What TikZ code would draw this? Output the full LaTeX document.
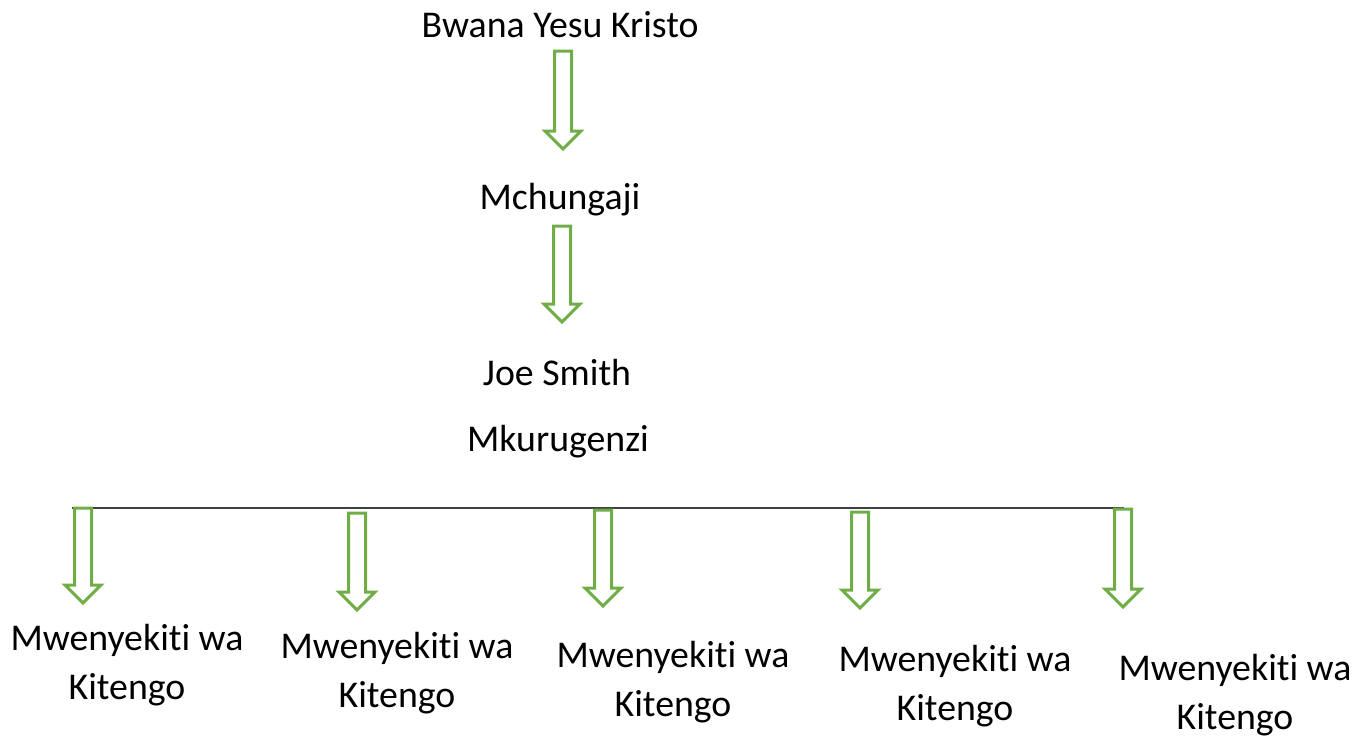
\documentclass[tikz,border=0pt]{standalone}
\usepackage{fontspec}
\setmainfont{Carlito}[Ligatures={NoCommon,NoRequired,NoContextual}, Contextuals=NoAlternate]
\usepackage{tikz}

\definecolor{arrowgreen}{HTML}{70AD47}
\definecolor{linegray}{HTML}{404040}

\tikzset{
  lbl/.style={font=\fontsize{37.8}{49}\selectfont, inner sep=0pt, align=center},
  blockline/.style={arrowgreen, line width=3pt, fill=white, line join=miter}
}

% hollow down arrow: x, top, tip
\newcommand{\downblock}[3]{%
  \draw [blockline] (#1-8.5,#2) -- (#1+8.5,#2) -- (#1+8.5,#3-18) -- (#1+18,#3-18)
    -- (#1,#3) -- (#1-18,#3-18) -- (#1-8.5,#3-18) -- cycle;}

\begin{document}
\begin{tikzpicture}[x=1pt, y=-1pt]
  \useasboundingbox (0,0) rectangle (1368,737);
  \node [lbl] (bwana) at (560, 25) {Bwana Yesu Kristo};
  \downblock{563}{51}{149}
  \node [lbl] (mchungaji) at (560, 200) {Mchungaji};
  \downblock{562}{226}{322}
  \node [lbl] (joe) at (557, 373) {Joe Smith};
  \node [lbl] (mkurugenzi) at (558, 442) {Mkurugenzi};
  \coordinate (lineL) at (72, 508);
  \coordinate (lineR) at (1124, 508);
  \draw [linegray, line width=1.5pt] (lineL) -- (lineR);
  \downblock{83}{508}{603}
  \downblock{357}{513}{610}
  \downblock{603}{510}{606}
  \downblock{860}{512}{608}
  \downblock{1123}{509}{607}
  \node [lbl] (m1) at (127, 665) {Mwenyekiti wa\\Kitengo};
  \node [lbl] (m2) at (397, 673) {Mwenyekiti wa\\Kitengo};
  \node [lbl] (m3) at (673, 682) {Mwenyekiti wa\\Kitengo};
  \node [lbl] (m4) at (955, 686) {Mwenyekiti wa\\Kitengo};
  \node [lbl] (m5) at (1235, 695) {Mwenyekiti wa\\Kitengo};
\end{tikzpicture}
\end{document}
